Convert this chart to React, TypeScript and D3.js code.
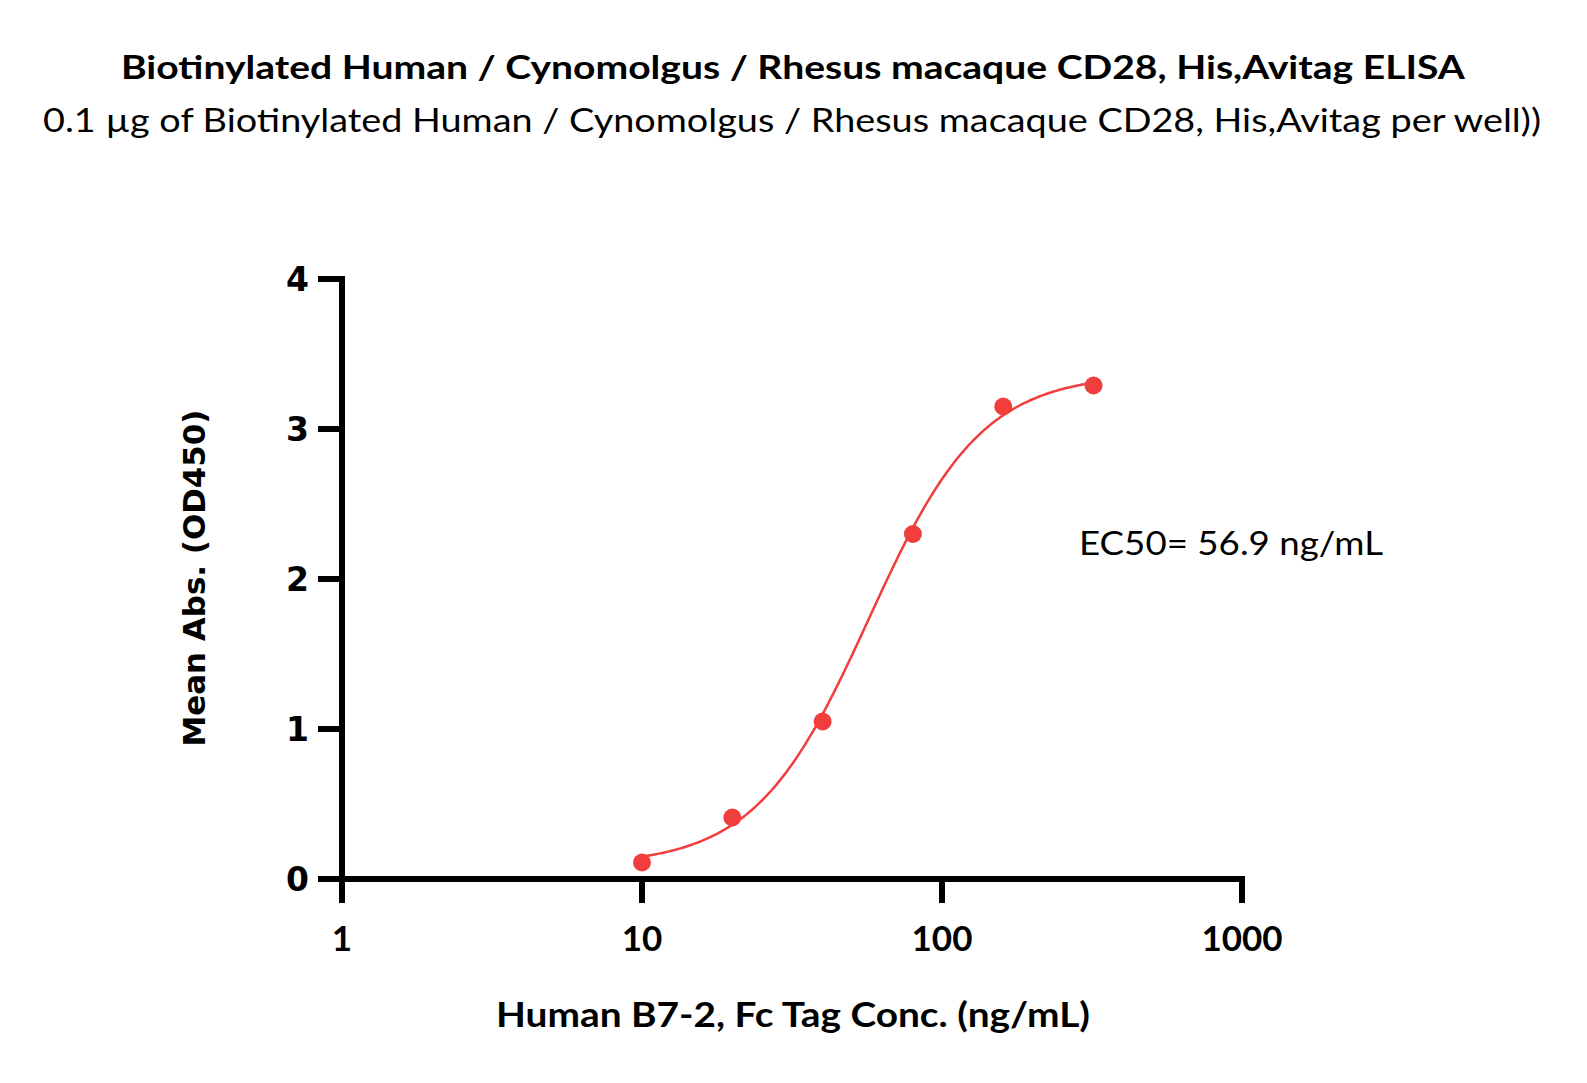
import React from "react";
import * as d3 from "d3";

const concentrations = [10, 20, 40, 80, 160, 320];
const absorbance = [0.11, 0.41, 1.05, 2.30, 3.15, 3.29];
const xTicks = [1, 10, 100, 1000];
const yTicks = [0, 1, 2, 3, 4];
// 4PL fit parameters (EC50 reported on the chart)
const fitBottom = 0.09;
const fitTop = 3.37;
const fitEC50 = 56.9;
const fitHill = 2.3;

const title = "Biotinylated Human / Cynomolgus / Rhesus macaque CD28, His,Avitag ELISA";
const subtitle = "0.1 \u00b5g of Biotinylated Human / Cynomolgus / Rhesus macaque CD28, His,Avitag per well))";
const xLabel = "Human B7-2, Fc Tag Conc. (ng/mL)";
const yLabel = "Mean Abs. (OD450)";
const ec50Label = "EC50= 56.9 ng/mL";

const W = 1587;
const H = 1083;
const RED = "#f23d3d";
const CAL = "Lato, 'Open Sans', sans-serif";
const VER = "'DejaVu Sans', Verdana, sans-serif";
const SW = 6;

export default function App() {
  const x = d3.scaleLog().domain([1, 1000]).range([342, 1242]);
  const y = d3.scaleLinear().domain([0, 4]).range([879, 279]);
  const axisY0 = y(0);

  const curvePts: [number, number][] = [];
  const n = 200;
  const lo = Math.log10(concentrations[0]);
  const hi = Math.log10(concentrations[concentrations.length - 1]);
  for (let i = 0; i <= n; i++) {
    const c = Math.pow(10, lo + ((hi - lo) * i) / n);
    const v = fitBottom + (fitTop - fitBottom) / (1 + Math.pow(fitEC50 / c, fitHill));
    curvePts.push([c, v]);
  }
  const line = d3
    .line<[number, number]>()
    .x((d) => x(d[0]))
    .y((d) => y(d[1]));

  return (
    <svg
      width={W}
      height={H}
      style={{ position: "absolute", left: 0, top: 0, background: "#fff" }}
    >
      <rect x={0} y={0} width={W} height={H} fill="#fff" />
      <text
        x={793}
        y={79}
        textAnchor="middle"
        fontFamily={CAL}
        fontWeight="bold"
        fontSize={33}
        textLength={1344}
        lengthAdjust="spacingAndGlyphs"
      >
        {title}
      </text>
      <text
        x={792}
        y={132}
        textAnchor="middle"
        fontFamily={CAL}
        fontSize={33}
        textLength={1498}
        lengthAdjust="spacingAndGlyphs"
      >
        {subtitle}
      </text>

      {/* axes */}
      <line x1={342} x2={342} y1={y(4) - SW / 2} y2={903} stroke="#000" strokeWidth={SW} />
      <line x1={318} x2={1245} y1={axisY0} y2={axisY0} stroke="#000" strokeWidth={SW} />
      {yTicks.map((t) => (
        <g key={"y" + t}>
          <line x1={318} x2={342} y1={y(t)} y2={y(t)} stroke="#000" strokeWidth={SW} />
          <text
            x={309}
            y={y(t)}
            dy="0.36em"
            textAnchor="end"
            fontFamily={VER}
            fontWeight="bold"
            fontSize={33}
          >
            {t}
          </text>
        </g>
      ))}
      {xTicks.map((t) => (
        <g key={"x" + t}>
          <line x1={x(t)} x2={x(t)} y1={axisY0} y2={903} stroke="#000" strokeWidth={SW} />
          <text
            x={x(t)}
            y={951}
            textAnchor="middle"
            fontFamily={CAL}
            fontWeight="bold"
            fontSize={35}
          >
            {t}
          </text>
        </g>
      ))}

      <text
        x={793}
        y={1027}
        textAnchor="middle"
        fontFamily={CAL}
        fontWeight="bold"
        fontSize={35}
        textLength={594}
        lengthAdjust="spacingAndGlyphs"
      >
        {xLabel}
      </text>
      <text
        transform="translate(205,578) rotate(-90)"
        textAnchor="middle"
        fontFamily={VER}
        fontWeight="bold"
        fontSize={31}
        textLength={337}
        lengthAdjust="spacingAndGlyphs"
      >
        {yLabel}
      </text>

      <path d={line(curvePts) || ""} fill="none" stroke={RED} strokeWidth={2.5} />
      {concentrations.map((c, i) => (
        <circle key={c} cx={x(c)} cy={y(absorbance[i])} r={9} fill={RED} />
      ))}

      <text
        x={1079}
        y={555}
        fontFamily={CAL}
        fontSize={33}
        textLength={304}
        lengthAdjust="spacingAndGlyphs"
      >
        {ec50Label}
      </text>
    </svg>
  );
}
